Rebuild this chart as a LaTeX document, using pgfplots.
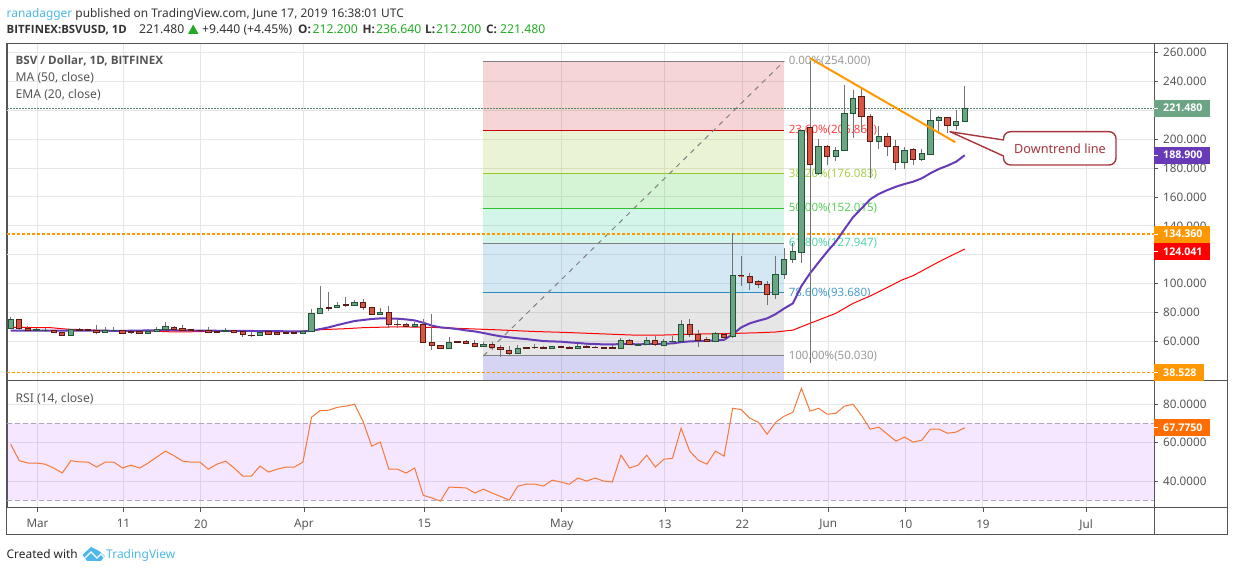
\documentclass[border=0pt]{standalone}
\usepackage{pgfplots}
\usepackage{fontspec}
\usetikzlibrary{calc}
\setmainfont{Noto Sans}
\newfontfamily\bfam{Open Sans}[BoldFont={Open Sans Bold}]
\pgfplotsset{compat=1.18}
\definecolor{gridc}{HTML}{E6E6E6}
\definecolor{framec}{HTML}{555555}
\definecolor{upf}{HTML}{6BA583}
\definecolor{upb}{HTML}{225437}
\definecolor{dnf}{HTML}{D75442}
\definecolor{dnb}{HTML}{5B1A13}
\definecolor{wickc}{HTML}{737375}
\definecolor{tvblue}{HTML}{4CB7E8}
\definecolor{ora}{HTML}{FF9800}
\definecolor{purp}{HTML}{673AB7}
\definecolor{valgreen}{HTML}{22AB22}
\definecolor{txtc}{HTML}{333333}
\definecolor{lblc}{HTML}{555555}
\definecolor{f1}{HTML}{CC2D2D}
\definecolor{f2}{HTML}{96C828}
\definecolor{f3}{HTML}{2DC32D}
\definecolor{f4}{HTML}{28CC96}
\definecolor{f5}{HTML}{2A8CC3}
\definecolor{f6}{HTML}{808080}
\definecolor{f7}{HTML}{2D2DC3}
\definecolor{rsiband}{HTML}{9915FF}
\definecolor{rsidash}{HTML}{B0A4B8}
\definecolor{rsiline}{HTML}{F57837}
\definecolor{rsitag}{HTML}{FF6D00}
\definecolor{calloutc}{HTML}{A8353C}
\newcommand\cu[5]{%
  \pgfmathsetmacro\xa{#1-0.31}\pgfmathsetmacro\xb{#1+0.31}%
  \addplot[wickc,line width=1pt] coordinates {(#1,#3)(#1,#4)};
  \addplot[draw=upb,fill=upf,line width=1pt] coordinates {(\xa,#2)(\xb,#2)(\xb,#5)(\xa,#5)} --cycle;
}
\newcommand\cd[5]{%
  \pgfmathsetmacro\xa{#1-0.31}\pgfmathsetmacro\xb{#1+0.31}%
  \addplot[wickc,line width=1pt] coordinates {(#1,#3)(#1,#4)};
  \addplot[draw=dnb,fill=dnf,line width=1pt] coordinates {(\xa,#2)(\xb,#2)(\xb,#5)(\xa,#5)} --cycle;
}
\newcommand\fibfill[3]{\addplot[draw=none,fill=#1,fill opacity=0.2] coordinates {(52,#2)(87,#2)(87,#3)(52,#3)} --cycle;}
\newcommand\fibline[2]{\addplot[#1,line width=1pt] coordinates {(52,#2)(87,#2)};}
\newcommand\fiblabel[3]{\node[anchor=west,inner sep=0pt,text=#1,font=\fontsize{11.5}{14}\selectfont] at (axis cs:87.5,#2) {#3};}
\newcommand\pricetag[4]{%
  \fill[#2] ($(#1)+(0,-8.5)$) rectangle ($(#1)+(#3,8.5)$);
  \draw[white,line width=0.8pt] (#1) -- ++(4,0);
  \node[anchor=west,inner sep=0pt,text=white,font=\bfam\fontsize{10.6}{14}\bfseries\selectfont] at ($(#1)+(9,0)$) {#4};
}
\newcommand\txt[4]{\node[anchor=base west,inner sep=0pt,text=#3,font=\fontsize{#4}{14}\selectfont] at (#1,#2)}
\newcommand\btxt[4]{\node[anchor=base west,inner sep=0pt,text=#3,font=\bfam\fontsize{#4}{14}\bfseries\selectfont] at (#1,#2)}
\pgfplotsset{tvaxis/.style={
  scale only axis, width=1147pt, anchor=south west,
  xmin=-3.43, xmax=130.02,
  clip mode=individual,
  axis line style={framec,line width=1pt},
  grid=both, grid style={gridc,line width=1pt},
  xtick={0.12,10.12,19.12,31.12,45.12,61.12,73.12,82.12,92.12,101.12,110.12,122.12},
  ytick pos=right, xtick pos=bottom,
  tick align=outside, major tick length=4pt,
  tick style={framec,line width=0.8pt},
  yticklabel style={font=\fontsize{11.7}{14}\selectfont,text=lblc,anchor=west,inner sep=0pt,xshift=5pt},
  xticklabel style={font=\fontsize{11.7}{14}\selectfont,text=lblc,yshift=-4pt},
}}
\begin{document}
\begin{tikzpicture}[x=1pt,y=1pt]
\useasboundingbox (0,0) rectangle (1234,572);
% ---------- price pane
\begin{axis}[tvaxis, at={(7pt,191pt)}, height=337.5pt,
  ymin=32.7, ymax=266.2,
  ytick={60,80,100,140,160,180,200,240,260},
  extra y ticks={120,220},
  extra y tick labels={},
  extra y tick style={grid=major},
  xticklabels={},
  xtick style={draw=none},
  /pgf/number format/.cd, fixed, fixed zerofill, precision=3, assume math mode=true]
% Fibonacci retracement
\fibfill{f1}{205.86}{254}
\fibfill{f2}{176.083}{205.86}
\fibfill{f3}{152.015}{176.083}
\fibfill{f4}{127.947}{152.015}
\fibfill{f5}{93.68}{127.947}
\fibfill{f6}{50.03}{93.68}
\fibfill{f7}{32.7}{50.03}
\fibline{f6}{254}
\fibline{red!80!black}{205.86}
\fibline{f2}{176.083}
\fibline{f3}{152.015}
\fibline{f6}{127.947}
\fibline{f5}{93.68}
\fibline{f6}{50.03}
\addplot[f6,line width=1pt,dash pattern=on 5pt off 5pt] coordinates {(52,50.03)(87,254)};
\fiblabel{black!40}{254}{0.00\%(254.000)}
\fiblabel{red!75}{205.86}{23.60\%(205.860)}
\fiblabel{f2!85}{176.083}{38.20\%(176.083)}
\fiblabel{f3!80}{152.015}{50.00\%(152.015)}
\fiblabel{f4!80}{127.947}{61.80\%(127.947)}
\fiblabel{f5!85}{93.68}{78.60\%(93.680)}
\fiblabel{black!40}{50.03}{100.00\%(50.030)}
% horizontal levels
\addplot[ora,line width=1.6pt,dash pattern=on 3pt off 2pt] coordinates {(-3.43,134.36)(130.02,134.36)};
\addplot[ora,line width=1.6pt,dash pattern=on 3pt off 2pt] coordinates {(-3.43,38.528)(130.02,38.528)};
\addplot[upf!80!black,line width=0.8pt,dash pattern=on 1.5pt off 1.5pt] coordinates {(-3.43,221.48)(130.02,221.48)};
% MA 50
\addplot[red,line width=1pt] coordinates {(-3,69.8)(1.6,69.6)(3.5,68.6)(7.3,67.7)(13,67.3)(16.2,66.6)(18.5,66.8)(22.7,67.5)(26.6,66.8)(30.4,66.8)(32.3,68)(36,68.9)(38,69.6)(42,70.2)(46,69.8)(50,68.9)(54,68)(57.7,67)(61.5,66.3)(65.4,65.4)(69.3,64.5)(73,64.5)(77,65.2)(81,65.6)(84,66.1)(86,66.6)(88,67.9)(90,72.6)(93,79.5)(95,86.4)(97,91.5)(98.8,96.8)(100.7,102.6)(102,105.6)(105,115.2)(108,124.041)};
% EMA 20
\addplot[purp,line width=2pt] coordinates {(-3,67.5)(5,67.6)(10,67.4)(15,67.9)(20,67.5)(25,67.3)(31,67)(32,67.5)(33,68.6)(34,69.8)(35,71.4)(36,72.8)(37,74.2)(38,74.9)(39,75.6)(40,76)(41,76)(42,75.8)(43,75.3)(44,74.6)(45,73)(46,71)(47,69.8)(48,69.3)(49,68.6)(50,67.7)(51,67)(52,65.9)(53,64.7)(54,63.6)(55,62.9)(56,62.2)(57,61.7)(58,61)(59,60.3)(60,60.1)(61,59.9)(62,59.4)(63,59)(64,58.5)(65,58.3)(66,58)(67,58)(68,58.3)(69,58.3)(70,58)(71,58.3)(72,58.3)(73,58.5)(74,58.7)(75,59.6)(76,60.1)(77,60.3)(78,60.6)(79,60.8)(80,61.2)(81,65)(82,69.8)(83,72.6)(84,74.4)(85,76)(86,79)(87,82.9)(88,86.4)(89,98.4)(90,107.2)(91,114.8)(92,122.2)(93,129.1)(94,137.6)(95,146)(96,152.1)(97,158.4)(98,162.1)(99,164.8)(100,167.1)(101,169)(102,170.6)(103,172.9)(104,176.4)(105,179.4)(106,181.7)(107,184.4)(108,188.9)};
% candles: day, open, high, low, close
\cu{-3}{68.9}{77.0}{68.9}{75.3}
\cd{-2}{75.3}{75.3}{67.5}{68.9}
\cd{-1}{69.3}{70.7}{67.9}{67.9}
\cu{0}{67.9}{69.6}{67.5}{68.2}
\cu{1}{67.7}{69.6}{66.6}{67.9}
\cd{2}{67.7}{67.9}{66.3}{66.3}
\cd{3}{66.3}{66.3}{64}{64}
\cu{4}{64}{68.4}{64}{68.4}
\cd{5}{68.6}{69.3}{67.5}{67.5}
\cd{6}{68.1}{68.3}{67.7}{67.7}
\cd{7}{67.7}{71.4}{65.4}{66.1}
\cu{8}{66.1}{70}{66.1}{67.7}
\cu{9}{67.5}{70}{67.4}{67.9}
\cd{10}{67.5}{67.7}{65.4}{65.4}
\cd{11}{67}{67.3}{65.2}{66.1}
\cd{12}{67}{67.2}{65.4}{65.4}
\cu{13}{65.4}{68.4}{65.4}{67}
\cu{14}{66.8}{70}{66.8}{68.4}
\cu{15}{68.2}{73.5}{68.2}{70.5}
\cd{16}{70}{70.7}{68.6}{68.6}
\cd{17}{69.1}{71.4}{67.5}{67.5}
\cd{18}{68.4}{68.6}{67.5}{67.5}
\cd{19}{67.7}{67.9}{67.3}{67.5}
\cd{20}{67.5}{70}{66.1}{66.1}
\cd{21}{67}{67.2}{66}{66.3}
\cu{22}{67}{69.3}{67}{67.7}
\cd{23}{67.7}{67.9}{66.1}{66.1}
\cd{24}{66.6}{66.8}{63.3}{64.7}
\cd{25}{64.5}{66.6}{63.3}{64}
\cu{26}{64}{66.8}{64}{66.3}
\cd{27}{66.6}{66.8}{65}{65}
\cd{28}{66.1}{66.3}{65}{65}
\cd{29}{66.3}{67.7}{65.7}{65.7}
\cd{30}{66.3}{67}{65.7}{65.7}
\cu{31}{65.4}{67.7}{65.4}{67}
\cu{32}{66.8}{82.5}{66.8}{79.7}
\cu{33}{79.7}{98.4}{79.3}{83}
\cd{34}{83.6}{94.3}{81.3}{82.7}
\cu{35}{83.6}{87.1}{83.6}{85}
\cd{36}{85.9}{90.8}{84.1}{84.8}
\cu{37}{84.8}{88.5}{84.8}{87.1}
\cd{38}{87.1}{89.4}{81.8}{83.6}
\cd{39}{83.4}{83.4}{78.8}{78.8}
\cu{40}{78.8}{83.2}{78.8}{80.4}
\cd{41}{80.2}{84.6}{69.6}{71.7}
\cd{42}{72.1}{75.6}{69.6}{71.6}
\cd{43}{71.9}{72.5}{70.5}{70.5}
\cu{44}{70.5}{73.7}{70.5}{72.1}
\cd{45}{71.9}{75.6}{59.4}{59.4}
\cd{46}{59.4}{79}{54.3}{57.3}
\cd{47}{57.3}{57.3}{55.3}{55.3}
\cu{48}{55.3}{63.1}{55.3}{59.4}
\cd{49}{60.3}{60.6}{59.2}{59.2}
\cd{50}{59.7}{60.8}{58.7}{58.7}
\cd{51}{58.7}{60.8}{56.4}{56.4}
\cu{52}{56.6}{59.4}{56.2}{58}
\cd{53}{58}{59.7}{54.1}{55.7}
\cd{54}{56}{57.3}{49.5}{54.6}
\cd{55}{53.9}{56.9}{50.9}{51.6}
\cu{56}{51.8}{57.6}{51.8}{55.3}
\cd{57}{56}{56.4}{54.8}{55.3}
\cd{58}{56}{58}{55}{55.8}
\cd{59}{56.2}{56.9}{54.5}{55.3}
\cu{60}{55.3}{56.9}{55}{56.6}
\cd{61}{56.6}{57}{55.5}{55.7}
\cd{62}{56.2}{56.8}{55}{55.3}
\cu{63}{55.3}{58.5}{55}{56.6}
\cd{64}{56.9}{58}{55.5}{55.7}
\cd{65}{56.2}{56.6}{55.3}{55.7}
\cd{66}{56}{56.2}{55.3}{55.3}
\cd{67}{56}{57.3}{55.3}{55.3}
\cu{68}{55.3}{62.2}{55.3}{60.8}
\cd{69}{60.8}{61.7}{58}{58}
\cu{70}{57.1}{58.7}{57}{58}
\cu{71}{58}{62.9}{58}{60.8}
\cd{72}{60.8}{64}{57.1}{58}
\cu{73}{57.3}{61.7}{57}{60.1}
\cu{74}{60.1}{63.8}{58.7}{60.3}
\cu{75}{60.1}{74.7}{60.1}{71.9}
\cd{76}{71.9}{75.6}{63.3}{64.7}
\cd{77}{64.7}{68}{56.2}{60.6}
\cd{78}{61.5}{62.9}{59.9}{59.9}
\cu{79}{60.1}{66.8}{60.1}{65.4}
\cd{80}{64.7}{66.1}{60.8}{63.1}
\cu{81}{63.3}{134.9}{62.6}{106}
\cd{82}{105.6}{119.2}{98.4}{105.4}
\cd{83}{105.1}{107.2}{95.6}{100.7}
\cd{84}{101.6}{102.5}{97}{99.3}
\cd{85}{99.8}{101.9}{85.2}{92.4}
\cu{86}{92.4}{119.2}{89.4}{106.5}
\cu{87}{106.5}{124.7}{103.2}{116.9}
\cu{88}{116.9}{127.9}{114.5}{122.4}
\cu{89}{121.5}{206.1}{114.5}{206.1}
\cd{90}{208.2}{254}{45.3}{182.6}
\cu{91}{176.1}{200.1}{175}{195}
\cd{92}{195}{196}{182.1}{187.9}
\cu{93}{187.9}{194.4}{185.1}{192.3}
\cu{94}{192.3}{237.5}{192.3}{217.9}
\cu{95}{217.9}{234}{201.1}{228.3}
\cd{96}{229.7}{235.2}{205}{215.8}
\cd{97}{215.8}{217.4}{172.9}{198.5}
\cu{98}{198.5}{209.1}{193}{202}
\cd{99}{202}{204}{188.4}{195}
\cd{100}{195}{199.4}{178.9}{184}
\cu{101}{184}{194.4}{179.4}{192.3}
\cd{102}{193}{193.7}{182.1}{186}
\cu{103}{186}{193.2}{185.1}{190.2}
\cu{104}{189.5}{220.9}{189.5}{213}
\cu{105}{213}{216}{203.4}{215.1}
\cd{106}{215.1}{215.1}{204.5}{209.6}
\cu{107}{209.6}{220.2}{206.4}{212.4}
\cu{108}{212.2}{236.64}{212.2}{221.48}
% downtrend line
\addplot[ora,line width=2pt] coordinates {(90,256)(106.9,197.9)};
\coordinate (b221) at (axis cs:130.02,221.48);
\coordinate (b189) at (axis cs:130.02,188.9);
\coordinate (b134) at (axis cs:130.02,134.36);
\coordinate (b124) at (axis cs:130.02,122.3);
\coordinate (b38) at (axis cs:130.02,38.528);
\end{axis}
% ---------- RSI pane
\begin{axis}[tvaxis, at={(7pt,64pt)}, height=127pt,
  ymin=26, ymax=92.1,
  ytick={40,60,80},
  xticklabels={Mar,11,20,Apr,15,May,13,22,Jun,10,19,Jul},
  /pgf/number format/.cd, fixed, fixed zerofill, precision=4, assume math mode=true]
\addplot[draw=none,fill=rsiband,fill opacity=0.1] coordinates {(-3.43,30)(130.02,30)(130.02,70)(-3.43,70)} --cycle;
\addplot[rsidash,line width=1pt,dash pattern=on 5pt off 3pt] coordinates {(-3.43,70)(130.02,70)};
\addplot[rsidash,line width=1pt,dash pattern=on 5pt off 3pt] coordinates {(-3.43,30)(130.02,30)};
\addplot[rsiline,line width=1pt] coordinates {(-3,59.2)(-2,50.6)(-1,49.4)(0,49.4)(1,48.8)(2,46.8)(3,44.2)(4,50.6)(5,50)(6,49.9)(7,47.3)(8,49.9)(9,49.9)(10,46.8)(11,48.3)(12,46.8)(13,49.4)(14,52.5)(15,55.6)(16,53.2)(17,50.4)(18,49.9)(19,49.9)(20,46.2)(21,48.8)(22,50.4)(23,46.8)(24,42.6)(25,42.6)(26,47.8)(27,44.7)(28,46.2)(29,47.3)(30,47.3)(31,49.9)(32,73.2)(33,76.7)(34,76.9)(35,78.4)(36,79)(37,80)(38,71)(39,58.2)(40,60.3)(41,46.2)(42,46.2)(43,44.2)(44,46.8)(45,32.6)(46,31.2)(47,29.6)(48,36.9)(49,36.7)(50,36.4)(51,33.8)(52,35.8)(53,33.8)(54,32)(55,30.1)(56,37.4)(57,38.4)(58,38.4)(59,37.4)(60,40.5)(61,39.5)(62,38.4)(63,41.6)(64,40)(65,41.6)(66,40)(67,39.5)(68,53.5)(69,46.8)(70,48.3)(71,53.5)(72,47.3)(73,51.4)(74,51.9)(75,67.5)(76,55.6)(77,50.9)(78,48.8)(79,55.6)(80,53)(81,77.9)(82,77.2)(83,72.7)(84,70.6)(85,64.4)(86,70.6)(87,73.8)(88,75.8)(89,88.3)(90,76.4)(91,77.9)(92,74.8)(93,75.3)(94,79)(95,80)(96,74.1)(97,67)(98,68.1)(99,64.4)(100,60.8)(101,62.9)(102,60.3)(103,61.3)(104,67)(105,67)(106,64.9)(107,65.5)(108,67.775)};
\coordinate (brsi) at (axis cs:130.02,67.775);
\end{axis}
% ---------- outer frame
\draw[framec,line width=1pt] (6.5,528.5) rectangle (1227,37);
\draw[framec,line width=1pt] (1154,64) -- (1154,37);
\draw[framec,line width=1pt] (1154,191) -- (1227,191);
\draw[framec,line width=1pt] (1154,64) -- (1227,64);
% ---------- price tags
\pricetag{b221}{upf}{56}{221.480}
\pricetag{b189}{purp}{56}{188.900}
\pricetag{b134}{ora}{56}{134.360}
\pricetag{b124}{red}{56}{124.041}
\pricetag{b38}{ora}{50}{38.528}
\pricetag{brsi}{rsitag}{56}{67.7750}
% ---------- callout
\draw[calloutc,line width=1.4pt,fill=white,line join=round]
  (950,440.3) -- (1003.5,432) {[rounded corners=7pt] -- (1003.5,440.3) -- (1116,440.3) -- (1116,407) -- (1003.5,407)} -- (1003.5,416) -- cycle;
\node[text=calloutc,font=\fontsize{12.7}{14}\selectfont,inner sep=0pt] at (1060,423.6) {Downtrend line};
% ---------- pane texts
\btxt{15.5}{507}{lblc}{11.6} {BSV / Dollar, 1D, BITFINEX};
\txt{15.5}{490}{lblc}{12.1} {MA (50, close)};
\txt{15.5}{473}{lblc}{12.1} {EMA (20, close)};
\txt{15.5}{169}{lblc}{12.1} {RSI (14, close)};
% ---------- header
\txt{6.5}{554}{txtc}{11.9} {\textcolor{tvblue}{ranadagger} published on TradingView.com, June 17, 2019 16:38:01 UTC};
\btxt{6.5}{538}{txtc}{11.4} {BITFINEX:BSVUSD, 1D};
\txt{139}{538}{txtc}{12.2} {221.480};
\fill[valgreen] (188,538) -- (198.5,538) -- (193.2,547.5) -- cycle;
\txt{202}{538}{txtc}{12.2} {+9.440 (+4.45\%)};
\btxt{298}{538}{txtc}{11.8} {O:};
\txt{312.5}{538}{valgreen}{12.2} {212.200};
\btxt{362.5}{538}{txtc}{11.8} {H:};
\txt{376}{538}{valgreen}{12.2} {236.640};
\btxt{425}{538}{txtc}{11.8} {L:};
\txt{436}{538}{valgreen}{12.2} {212.200};
\btxt{486}{538}{txtc}{11.8} {C:};
\txt{500}{538}{valgreen}{12.2} {221.480};
% ---------- footer
\txt{6.5}{13.7}{black!85}{11.9} {Created with};
\fill[tvblue,line join=round] (82.5,17) -- (91,25) -- (99,21) -- (105,16) -- (101,11) -- (87,11) -- cycle;
\draw[white,line width=1.4pt] (83,12) -- (91,20) -- (97,14) -- (101,18) -- (105,14);
\txt{106}{13.7}{tvblue}{12.0} {TradingView};
\end{tikzpicture}
\end{document}
